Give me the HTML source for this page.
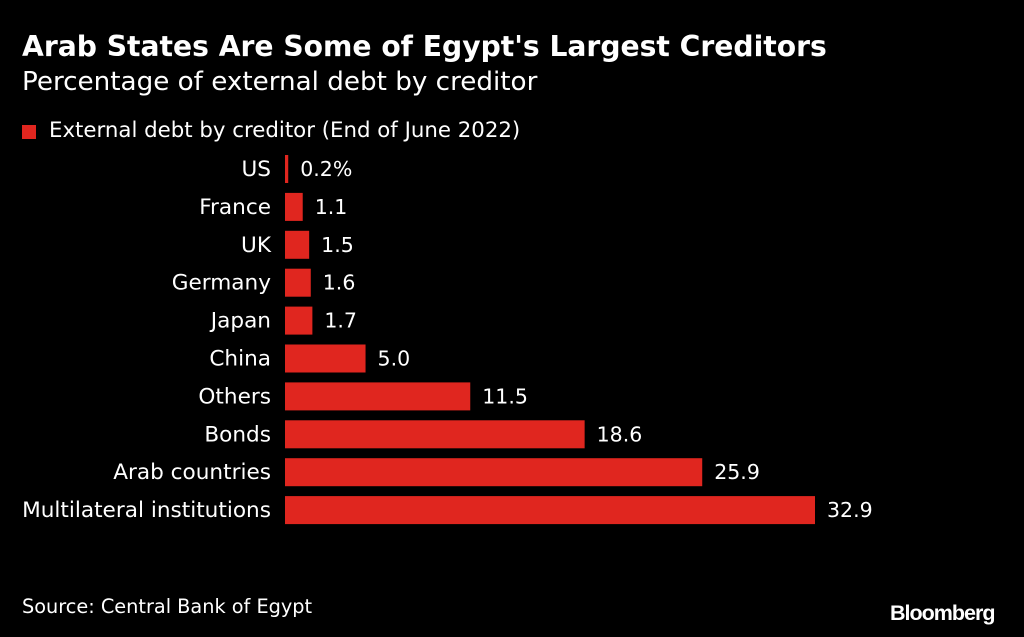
<!DOCTYPE html>
<html>
<head>
<meta charset="utf-8">
<style>
  html,body{margin:0;padding:0;background:#000;}
  body{width:1024px;height:637px;position:relative;overflow:hidden;font-family:"DejaVu Sans","Liberation Sans",sans-serif;color:#fff;}
  .t{position:absolute;white-space:nowrap;}
  svg text{font-family:"DejaVu Sans","Liberation Sans",sans-serif;}
</style>
</head>
<body>
<div class="t" style="left:22px;top:30px;font-size:28.2px;font-weight:bold;">Arab States Are Some of Egypt's Largest Creditors</div>
<div class="t" style="left:22px;top:67px;font-size:26.2px;">Percentage of external debt by creditor</div>
<div style="position:absolute;left:22px;top:118px;">
  <div style="position:absolute;left:0;top:7px;width:14px;height:14px;background:#e0261f;"></div>
  <div class="t" style="left:27px;top:0;font-size:21.3px;">External debt by creditor (End of June 2022)</div>
</div>
<svg id="chart" width="1024" height="637" style="position:absolute;left:0;top:0;"></svg>
<div class="t" style="left:22px;top:595px;font-size:19.3px;">Source: Central Bank of Egypt</div>
<div class="t" style="left:890px;top:601px;font-size:21.5px;font-weight:bold;letter-spacing:-1px;font-family:'Liberation Sans',sans-serif;">Bloomberg</div>
<script>
const categories = ["US","France","UK","Germany","Japan","China","Others","Bonds","Arab countries","Multilateral institutions"];
const values = [0.2,1.1,1.5,1.6,1.7,5.0,11.5,18.6,25.9,32.9];
const valueLabels = ["0.2%","1.1","1.5","1.6","1.7","5.0","11.5","18.6","25.9","32.9"];

const ns = "http://www.w3.org/2000/svg";
const svg = document.getElementById('chart');
const x0 = 285, pxPerUnit = 530/32.9;
const xScale = v => x0 + v * pxPerUnit;
const yTop = 155, step = 37.9, barH = 28;
const yScale = i => yTop + i * step;

categories.forEach((c, i) => {
  const y = yScale(i);
  const r = document.createElementNS(ns, 'rect');
  r.setAttribute('x', x0);
  r.setAttribute('y', y);
  r.setAttribute('width', Math.max(2, xScale(values[i]) - x0));
  r.setAttribute('height', barH);
  r.setAttribute('fill', '#e0261f');
  
  
  svg.appendChild(r);

  const lab = document.createElementNS(ns, 'text');
  lab.setAttribute('x', 271);
  lab.setAttribute('y', y + barH / 2 + 7);
  lab.setAttribute('text-anchor', 'end');
  lab.setAttribute('fill', '#fff');
  lab.setAttribute('font-size', '21.6');
  lab.textContent = c;
  
  
  svg.appendChild(lab);

  const val = document.createElementNS(ns, 'text');
  val.setAttribute('x', Math.max(xScale(values[i]), x0 + 2) + 12);
  val.setAttribute('y', y + barH / 2 + 7);
  val.setAttribute('fill', '#fff');
  val.setAttribute('font-size', '20.5');
  val.textContent = valueLabels[i];
  
  
  svg.appendChild(val);
});
</script>
</body>
</html>
